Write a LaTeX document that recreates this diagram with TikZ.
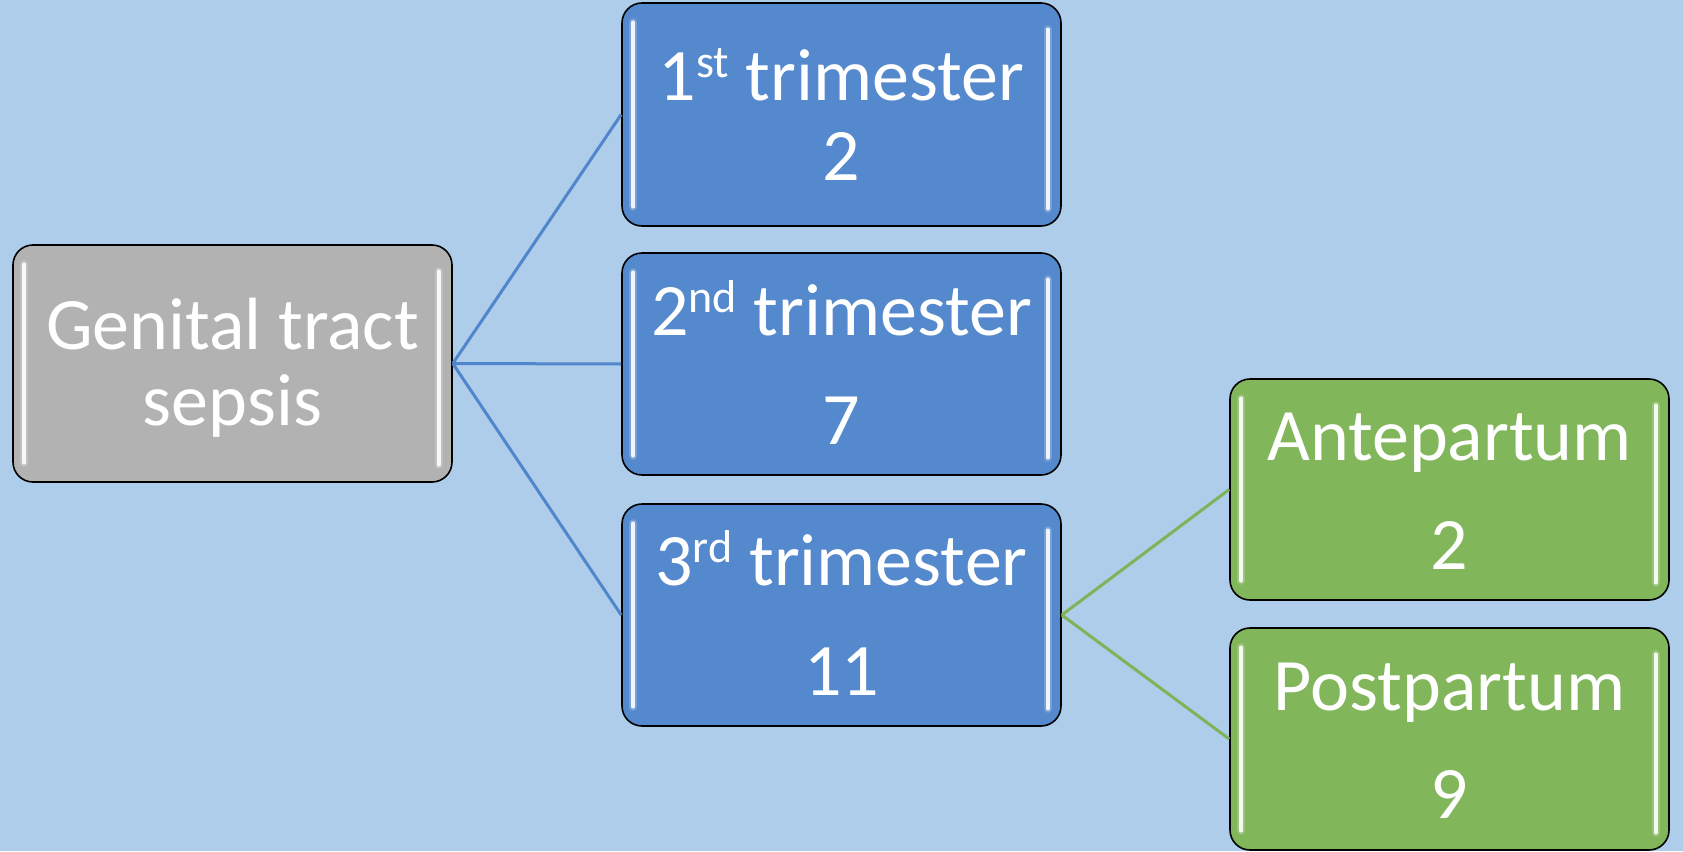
\documentclass[tikz,border=0pt]{standalone}
\usepackage{fontspec}
\setmainfont{Carlito}
\usetikzlibrary{calc}

\definecolor{bg}{RGB}{173,205,234}
\definecolor{bluebox}{RGB}{85,137,205}
\definecolor{graybox}{RGB}{178,178,178}
\definecolor{greenbox}{RGB}{130,182,90}
\definecolor{blueline}{RGB}{82,134,204}
\definecolor{greenline}{RGB}{125,180,88}

\newcommand\ordsup[1]{\raisebox{0.3em}{\fontsize{46}{46}\selectfont #1}}

% light vertical streaks inside each box, near its left and right edges
\newcommand\glossy[1]{%
  \draw[white, line width=8pt, opacity=0.2, line cap=round]
    ($(#1.north west)+(12,20)$) -- ($(#1.south west)+(12,-20)$);
  \draw[white, line width=3.5pt, opacity=0.9, line cap=round]
    ($(#1.north west)+(12,20)$) -- ($(#1.south west)+(12,-20)$);
  \draw[white, line width=8pt, opacity=0.2, line cap=round]
    ($(#1.north east)+(-14,27)$) -- ($(#1.south east)+(-14,-18)$);
  \draw[white, line width=3.5pt, opacity=0.9, line cap=round]
    ($(#1.north east)+(-14,27)$) -- ($(#1.south east)+(-14,-18)$);
}

\tikzset{
  box/.style={draw=black, line width=1.6pt, rounded corners=20pt,
    minimum width=439pt, inner sep=0pt},
  lbl/.style={text=white, font=\fontsize{74}{74}\selectfont,
    anchor=base, inner sep=0pt},
  link/.style={line width=3pt}
}

\begin{document}
\begin{tikzpicture}[x=1pt, y=-1pt]
  \fill[bg] (0,0) rectangle (1683,851);
  \useasboundingbox (0,0) rectangle (1683,851);

  % boxes
  \node[box, fill=graybox, minimum height=237pt] (root) at (232.5,363.5) {};
  \node[box, fill=bluebox, minimum height=223pt] (t1) at (841.5,114.5) {};
  \node[box, fill=bluebox, minimum height=222pt] (t2) at (841.5,364) {};
  \node[box, fill=bluebox, minimum height=222pt] (t3) at (841.5,615) {};
  \node[box, fill=greenbox, minimum height=221pt] (ante) at (1449.5,489.5) {};
  \node[box, fill=greenbox, minimum height=222pt] (post) at (1449.5,739) {};

  \glossy{root}
  \glossy{t1}
  \glossy{t2}
  \glossy{t3}
  \glossy{ante}
  \glossy{post}

  % connectors
  \draw[link, blueline] (root.east) -- (t1.west);
  \draw[link, blueline] (root.east) -- (t2.west);
  \draw[link, blueline] (root.east) -- (t3.west);
  \draw[link, greenline] (t3.east) -- (ante.west);
  \draw[link, greenline] (t3.east) -- (post.west);

  % labels
  \node[lbl] (rootA) at (232.5,349) {Genital tract};
  \node[lbl] (rootB) at (232.5,425) {sepsis};
  \node[lbl] (t1A) at (841.5,100) {1\ordsup{st} trimester};
  \node[lbl] (t1B) at (841.5,180) {2};
  \node[lbl] (t2A) at (841.5,335) {2\ordsup{nd} trimester};
  \node[lbl] (t2B) at (841.5,444) {7};
  \node[lbl] (t3A) at (841.5,585) {3\ordsup{rd} trimester};
  \node[lbl] (t3B) at (841.5,695) {11};
  \node[lbl] (anteA) at (1449.5,460) {Antepartum};
  \node[lbl] (anteB) at (1449.5,569) {2};
  \node[lbl] (postA) at (1449.5,710) {Postpartum};
  \node[lbl] (postB) at (1449.5,818) {9};
\end{tikzpicture}
\end{document}
